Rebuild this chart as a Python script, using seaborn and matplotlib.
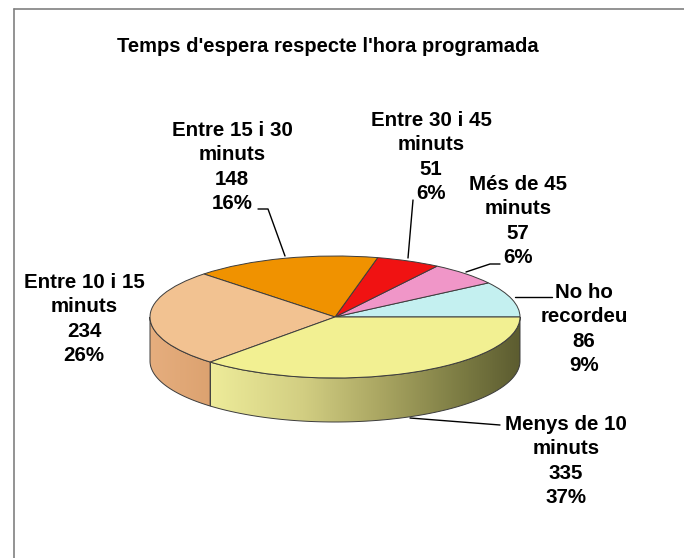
import numpy as np
import matplotlib
matplotlib.use("Agg")
import matplotlib.pyplot as plt
import seaborn as sns
from matplotlib.transforms import Affine2D
from matplotlib.patches import Polygon
from matplotlib.colors import LinearSegmentedColormap

# ---------------- data ----------------
categories = ["No ho\nrecordeu", "Més de 45\nminuts", "Entre 30 i 45\nminuts",
              "Entre 15 i 30\nminuts", "Entre 10 i 15\nminuts", "Menys de 10\nminuts"]
values = [86, 57, 51, 148, 234, 335]
top_colors = ["#C4F0F0", "#F096C8", "#F01212", "#F09200", "#F2C291", "#F2F092"]
title = "Temps d'espera respecte l'hora programada"

# label centres (pixel coords) and leader lines
label_pos = [(584, 329), (518, 221), (431, 157), (232, 167), (84, 319), (566, 461)]
leaders = [
    [(552, 297), (515, 297)],
    [(500, 264), (490, 264), (466, 272)],
    [(413, 200), (408, 258)],
    [(258, 209), (268, 209), (285, 256)],
    None,
    [(500, 425), (410, 418)],
]

sns.set_theme(style="white")
plt.rcParams["font.family"] = ["Liberation Sans", "DejaVu Sans"]

W, H = 684, 558
fig = plt.figure(figsize=(W / 100, H / 100), dpi=100)
ax = fig.add_axes([0, 0, 1, 1])

cx, cy, R, ry, depth = 335, 317, 185, 61, 44
total = sum(values)
bounds = np.concatenate([[0], np.cumsum(values)]) / total * 360.0

# ---------------- side walls (front half only) ----------------
def side_poly(a0, a1):
    t = np.radians(np.linspace(a0, a1, 120))
    xs = cx + R * np.cos(t)
    ys = cy - ry * np.sin(t)
    return np.concatenate([np.c_[xs, ys], np.c_[xs[::-1], ys[::-1] + depth]])

side_grad = {
    4: [(0.0, "#E6AE7E"), (1.0, "#DCA270")],
    5: [(0.0, "#EEEC9A"), (0.3, "#D2CE82"), (0.55, "#AAA662"),
        (0.82, "#7A7A42"), (1.0, "#5C5C30")],
}
for i in range(len(values)):
    a0, a1 = bounds[i], bounds[i + 1]
    lo, hi = max(a0, 180), min(a1, 360)
    if hi <= lo:
        continue
    pts = side_poly(lo, hi)
    patch = Polygon(pts, closed=True, facecolor="none", edgecolor="#3C3C3C",
                    linewidth=0.7, zorder=3)
    ax.add_patch(patch)
    cmap = LinearSegmentedColormap.from_list(
        f"g{i}", side_grad.get(i, [(0, top_colors[i]), (1, top_colors[i])]))
    x0, x1 = pts[:, 0].min(), pts[:, 0].max()
    y0, y1 = pts[:, 1].min(), pts[:, 1].max()
    grad = cmap(np.linspace(0, 1, 256))[None, :, :3]
    im = ax.imshow(grad, extent=(x0, x1, y1, y0), aspect="auto", zorder=2,
                   interpolation="bilinear")
    im.set_clip_path(patch)

# ---------------- top face via pie ----------------
wedges, _ = ax.pie(values, colors=top_colors, startangle=0, counterclock=True,
                   radius=R, center=(0, 0),
                   wedgeprops=dict(edgecolor="#3C3C3C", linewidth=0.7))
tr = Affine2D().scale(1, -ry / R).translate(cx, cy) + ax.transData
for w in wedges:
    w.set_transform(tr)
    w.set_zorder(4)

# ---------------- labels ----------------
for i, (cat, v) in enumerate(zip(categories, values)):
    pct = round(v / total * 100)
    txt = f"{cat}\n{v}\n{pct}%"
    x, y = label_pos[i]
    ax.text(x, y, txt, ha="center", va="center", fontsize=14.8, fontweight="bold",
            linespacing=1.35, color="black", zorder=6)
    if leaders[i]:
        xs, ys = zip(*leaders[i])
        ax.plot(xs, ys, color="black", lw=1.0, zorder=5)

ax.text(328, 47, title, ha="center", va="center", fontsize=14.5,
        fontweight="bold", color="black")

# chart border (top and left visible)
ax.plot([14, W], [9, 9], color="#808080", lw=1.2, zorder=7)
ax.plot([14, 14], [9, H], color="#808080", lw=1.2, zorder=7)

ax.set_xlim(0, W)
ax.set_ylim(H, 0)
ax.set_aspect("auto")
ax.axis("off")
fig.savefig("out.png", dpi=100, facecolor="white")
